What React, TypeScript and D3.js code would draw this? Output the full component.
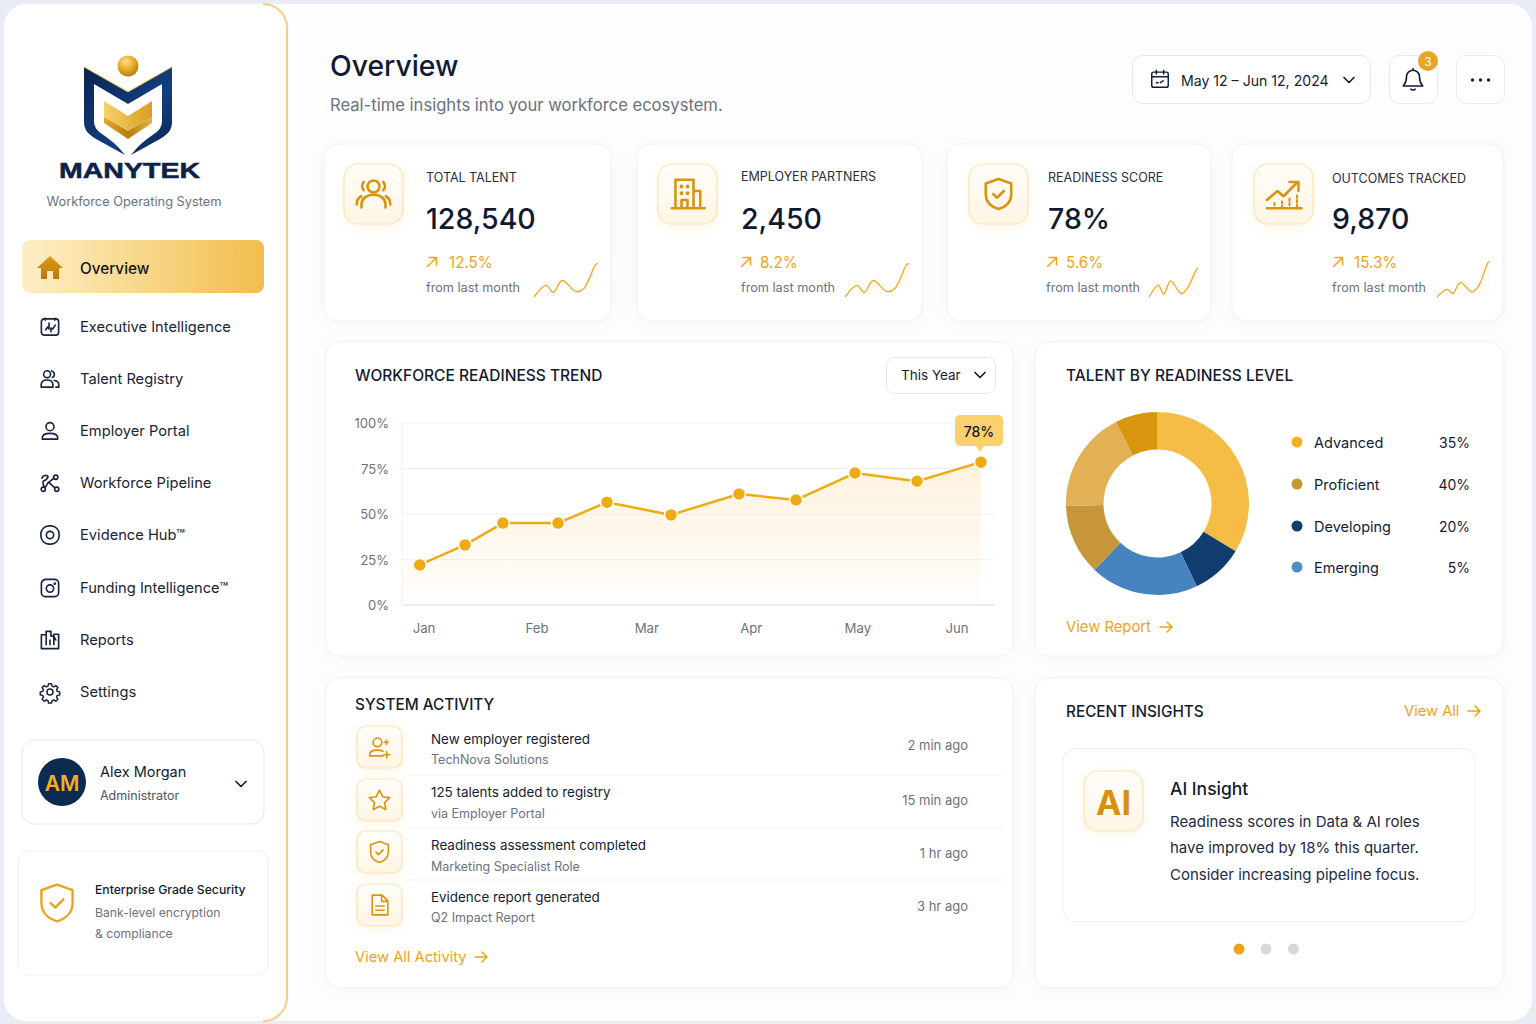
import React from "react";
import * as d3 from "d3";

// ---------- data ----------
const navLabels = ["Executive Intelligence", "Talent Registry", "Employer Portal", "Workforce Pipeline", "Evidence Hub™", "Funding Intelligence™", "Reports", "Settings"];
const navIcons = ["exec", "talent", "person", "pipeline", "evidence", "funding", "reports", "gear"];
const kpiLabels = ["TOTAL TALENT", "EMPLOYER PARTNERS", "READINESS SCORE", "OUTCOMES TRACKED"];
const kpiValues = ["128,540", "2,450", "78%", "9,870"];
const kpiDeltas = ["12.5%", "8.2%", "5.6%", "15.3%"];
const kpiIcons = ["users", "building", "shield", "growth"];
const sparkPositions = [0, 0.19, 0.3, 0.44, 0.66, 0.78, 0.97, 1];
const sparkOne = [0, 35, 14, 50, 16, 26, 100, 100];
const sparkTwo = [0, 35, 14, 50, 16, 26, 100, 100];
const sparkThree = [0, 40, 10, 55, 12, 30, 95, 100];
const sparkFour = [0, 22, 10, 42, 14, 30, 100, 100];
const sparks = [sparkOne, sparkTwo, sparkThree, sparkFour];

const trendPositions = [-0.04, 0.385, 0.74, 1.257, 1.717, 2.317, 2.955, 3.49, 4.043, 4.625, 5.225];
const trendValues = [22, 33, 45, 45, 56.5, 49.5, 61, 57.7, 72.5, 68, 78.5];
const areaStartPosition = -0.2;
const months = ["Jan", "Feb", "Mar", "Apr", "May", "Jun"];
const monthPositions = [0, 1.06, 2.09, 3.07, 4.07, 5];
const yTicks = [0, 25, 50, 75, 100];

const donutShares = [33.7, 9.2, 19.1, 12.5, 17.9, 7.5];
const donutColors = ["#f5bd45", "#0f3d70", "#4684c0", "#c8963a", "#e2b055", "#d8960f"];
const legendLabels = ["Advanced", "Proficient", "Developing", "Emerging"];
const legendValues = ["35%", "40%", "20%", "5%"];
const legendColors = ["#f3b11f", "#c8962f", "#0f3d70", "#4d8fcb"];

const activityTitles = ["New employer registered", "125 talents added to registry", "Readiness assessment completed", "Evidence report generated"];
const activitySubs = ["TechNova Solutions", "via Employer Portal", "Marketing Specialist Role", "Q2 Impact Report"];
const activityTimes = ["2 min ago", "15 min ago", "1 hr ago", "3 hr ago"];
const activityIcons = ["userplus", "star", "shield", "doc"];
const insightLines = ["Readiness scores in Data & AI roles", "have improved by 18% this quarter.", "Consider increasing pipeline focus."];

// ---------- layout ----------
const FONT = "Inter, 'Noto Sans', sans-serif";
const INK = "#131c33";
const GRAY = "#6b7280";
const ORANGE = "#f0a317";
const GOLD = "#d9930f";
const NAV_Y = [327, 379, 431, 483, 535, 588, 640, 692];
const kpiBox = [[324, 611], [637, 922], [947, 1211], [1232, 1503]];
const kpiIconX = [344, 658, 969, 1254];
const kpiText = [426, 741, 1048, 1332];
const kpiFrom = [426, 741, 1046, 1332];
const kpiLabelY = [177, 176, 177, 178];
const kpiArrow = [432, 746, 1052, 1338];
const kpiPct = [449, 760, 1066, 1354];
const sparkBox = [[534, 598, 264, 297], [845, 909, 264, 297], [1149, 1198, 268, 297], [1437, 1490, 262, 297]];
const rowBoxY = [726, 779, 831, 884];
const rowTitleY = [739, 792, 845, 897];
const rowSubY = [759, 813, 866, 917];
const rowTimeY = [745, 800, 853, 906];
const legendY = [442, 484, 526, 567];

const x = d3.scaleLinear().domain([0, 5]).range([424, 957]);
const y = d3.scaleLinear().domain([0, 100]).range([605, 423]);
const trendPts: [number, number][] = trendPositions.map((p, i) => [x(p), y(trendValues[i])]);
const trendLine = d3.line()(trendPts) as string;
const areaPts: [number, number][] = [[x(areaStartPosition), y(trendValues[0])], ...trendPts];
const trendArea = d3.area().y0(y(0)).y1((d) => d[1])(areaPts) as string;
const pieArcs = d3.pie<number>().sort(null)(donutShares);
const arcGen = d3.arc<d3.PieArcDatum<number>>().innerRadius(54).outerRadius(91.5);

const T = ({ x, y, s = 15, c = INK, w = 400, a = "start", ls, children }: any) => (
  <text x={x} y={y + 0.2} fontSize={s} fill={c} fontWeight={w} textAnchor={a} dominantBaseline="central" letterSpacing={ls} fontFamily={FONT}>{children}</text>
);

const iconPaths: Record<string, React.ReactNode> = {
  exec: <><rect x="3" y="3.5" width="18" height="17" rx="3" /><path d="M7 3v2M17 3v2M7.5 15l2-3 1.5 2V8M13 17v-4l2 1 2.5-4" /></>,
  talent: <><circle cx="9" cy="7" r="3.6" /><path d="M13.5 3.6a3.6 3.6 0 0 1 1 6.8M2.8 20.5v-2.5c0-3 2.5-5 6.2-5s6 2 6 5v2.5zM16.5 13.5c2.8.3 4.7 2 4.7 4.6v2.4h-3" /></>,
  person: <><circle cx="12" cy="7.5" r="4.2" /><path d="M4 20.5v-1.5c0-3 2.5-4.5 8-4.5s8 1.500 8 4.500v1.500z" /></>,
  pipeline: <><circle cx="5" cy="18.500" r="2.200" /><circle cx="19" cy="18.500" r="2.200" /><circle cx="18" cy="6" r="2.200" /><path d="M3.500 7c1-3 5-4 6.500-1.500M10 5.500c-1 3-3 4-5 4.500-1 2 0 4 1 6.500M7 16.500l3.500-5.500 6.500 6M11 11l5-4" /></>,
  evidence: <><rect x="2.500" y="2.500" width="19" height="19" rx="8.500" /><circle cx="12" cy="12" r="3.800" /></>,
  funding: <><path d="M7 3h10a4 4 0 0 1 4 4v10a4 4 0 0 1-4 4H7a4 4 0 0 1-4-4V7c0-2 1-3 4-4z" /><circle cx="12" cy="12.500" r="3.800" /><circle cx="17" cy="7.500" r=".6" /></>,
  reports: <><path d="M3 6.500h5V3h5v5h3V6l5 0v15H3zM8 6.500V14M8 17v-3M12 17v-5M16 17V8l2 4" /></>,
  gear: <><circle cx="12" cy="12" r="3.500" /><path d="M10.300 2.500h3.400l.6 2.800 1.900.8 2.400-1.500 2.400 2.400-1.500 2.400.8 1.900 2.800.6v3.400l-2.800.6-.8 1.900 1.500 2.400-2.400 2.400-2.400-1.500-1.900.8-.6 2.800h-3.400l-.6-2.800-1.900-.8-2.400 1.500-2.400-2.400 1.500-2.400-.8-1.900-2.800-.6v-3.400l2.800-.6.8-1.900-1.500-2.400 2.400-2.400 2.400 1.500 1.900-.8z" /></>,
  users: <><circle cx="12" cy="7" r="4" /><path d="M4 21v-2c0-4 3.500-6.500 8-6.500s8 2.500 8 6.500v2M5.500 4c-1.500 1.500-1.500 4 0 5.500M18.500 4c1.500 1.500 1.500 4 0 5.500M0.800 19c0-3 1-4.500 3-5.500M23.200 19c0-3-1-4.500-3-5.500" /></>,
  building: <><path d="M4 21V2.500h12V21M16 10h4.500v11M1.500 21.500h22M8 21v-5h4v5" /><path d="M8 7h.01M12 7h.01M8 11.500h.01M12 11.500h.01" strokeWidth="2.600" strokeLinecap="round" /></>,
  shield: <><path d="M12 2l8.500 3v7c0 5-3.500 8.500-8.500 10-5-1.500-8.500-5-8.500-10V5z" /><path d="M8.500 12l2.500 2.500 4.500-4.500" /></>,
  growth: <><path d="M1 16l7-6 4 3.500 9-9M16 4h6v6M1 21.500h23" /><path d="M6 18v3M11 17v4M16 15v6M21 13v8" strokeDasharray="1.500 1.500" strokeWidth="1.400" /></>,
  userplus: <><circle cx="10" cy="7.500" r="4.200" /><path d="M2.500 20.500v-1c0-3 3-4.500 7.500-4.500 2 0 4 .4 5.500 1.200M2.500 20.500h13M19 16.500v6M16 19.500h6M18.500 5.500v4M16.500 7.500h4" /></>,
  star: <path d="M12 2.500l3 6.300 6.800.9-5 4.800 1.300 6.800-6.100-3.300-6.100 3.300 1.300-6.800-5-4.800 6.800-.9z" />,
  doc: <><path d="M5 2.500h9.500L20 8v13.500H5zM14 3v5.500h6M8.500 13h8M8.500 17h8" /></>,
  calendar: <><rect x="3" y="4.500" width="18" height="16.500" rx="2" /><path d="M3 9.500h18M8 2.500v4M16 2.500v4M8 16h2M12.500 16l3-2" /></>,
  bell: <><path d="M6 9a6 6 0 0 1 12 0c0 6 2.500 7.500 3 8.500H3c.5-1 3-2.500 3-8.500zM12 1.500V3M10 20.500c.5 1 3.500 1 4 0" /></>,
};

const Icon = ({ name, cx, cy, size = 24, color = INK, sw = 1.7 }: any) => (
  <g transform={`translate(${cx - size / 2} ${cy - size / 2}) scale(${size / 24})`} fill="none" stroke={color} strokeWidth={sw} strokeLinecap="round" strokeLinejoin="round">
    {iconPaths[name]}
  </g>
);

const Arrow = ({ x, y, c = ORANGE }: any) => (
  <path d={`M${x} ${y}h12M${x + 7} ${y - 5}l5 5-5 5`} fill="none" stroke={c} strokeWidth="1.500" strokeLinecap="round" strokeLinejoin="round" />
);
const UpArrow = ({ x, y }: any) => (
  <path d={`M${x - 4.500} ${y + 4.500}L${x + 4.500} ${y - 4.500}M${x - 3} ${y - 4.500}h7.500v7.500`} fill="none" stroke={ORANGE} strokeWidth="1.500" strokeLinecap="round" strokeLinejoin="round" />
);
const Chevron = ({ x, y, c = INK }: any) => (
  <path d={`M${x - 5} ${y - 2.500}l5 5 5-5`} fill="none" stroke={c} strokeWidth="1.700" strokeLinecap="round" strokeLinejoin="round" />
);
const Card = ({ x, y, x2, y2, r = 14 }: any) => (
  <rect x={x} y={y} width={x2 - x} height={y2 - y} rx={r} fill="#fff" stroke="#eff1f5" filter="url(#card)" />
);
const IconBox = ({ x, y, w, h, r = 14 }: any) => (
  <rect x={x} y={y} width={w} height={h} rx={r} fill="url(#iconBg)" stroke="#fbe3b2" strokeWidth="1.200" filter="url(#iconGlow)" />
);

const Spark = ({ values, box, id }: any) => {
  const [x0, x1, y0, y1] = box;
  const sx = d3.scaleLinear().domain([0, 1]).range([x0, x1]);
  const sy = d3.scaleLinear().domain([0, 100]).range([y1, y0]);
  const pts: [number, number][] = values.map((v: number, i: number) => [sx(sparkPositions[i]), sy(v)]);
  const line = d3.line().curve(d3.curveCatmullRom.alpha(0.5))(pts) as string;
  const area = d3.area().curve(d3.curveCatmullRom.alpha(0.5)).y0(y1).y1((d) => d[1])(pts) as string;
  return (
    <g key={id}>
      <path d={area} fill="url(#sparkFill)" />
      <path d={line} fill="none" stroke="#f2a81d" strokeWidth="1.300" />
    </g>
  );
};

export default function App() {
  return (
    <svg width={1536} height={1024} viewBox="0 0 1536 1024" style={{ position: "fixed", left: 0, top: 0, display: "block" }}>
      <defs>
        <filter id="card" x="-10%" y="-10%" width="120%" height="125%"><feDropShadow dx="0" dy="2" stdDeviation="4" floodColor="#8a93a8" floodOpacity="0.08" /></filter>
        <filter id="iconGlow" x="-30%" y="-30%" width="160%" height="170%"><feDropShadow dx="0" dy="3" stdDeviation="4" floodColor="#f5b942" floodOpacity="0.12" /></filter>
        <linearGradient id="iconBg" x1="0" y1="0" x2="0" y2="1"><stop offset="0" stopColor="#fffefb" /><stop offset="1" stopColor="#fff5e3" /></linearGradient>
        <linearGradient id="active" x1="0" y1="0" x2="1" y2="0"><stop offset="0" stopColor="#fdeec8" /><stop offset="0.5" stopColor="#f8d78a" /><stop offset="1" stopColor="#f2bd4d" /></linearGradient>
        <linearGradient id="areaFill" x1="0" y1="0" x2="0" y2="1"><stop offset="0" stopColor="#f8c464" stopOpacity="0.22" /><stop offset="1" stopColor="#f8c464" stopOpacity="0.02" /></linearGradient>
        <linearGradient id="sparkFill" x1="0" y1="0" x2="0" y2="1"><stop offset="0" stopColor="#f8c464" stopOpacity="0.12" /><stop offset="1" stopColor="#f8c464" stopOpacity="0" /></linearGradient>
        <radialGradient id="ball" cx="0.4" cy="0.3" r="0.8"><stop offset="0" stopColor="#fbe08a" /><stop offset="0.5" stopColor="#e6a826" /><stop offset="1" stopColor="#a9700c" /></radialGradient>
        <linearGradient id="navy" x1="0" y1="0" x2="1" y2="1"><stop offset="0" stopColor="#0b2350" /><stop offset="0.6" stopColor="#123f80" /><stop offset="1" stopColor="#0b2350" /></linearGradient>
        <linearGradient id="goldTop" x1="0" y1="0" x2="1" y2="0"><stop offset="0" stopColor="#f5d36a" /><stop offset="1" stopColor="#d99e22" /></linearGradient>
        <linearGradient id="goldLow" x1="0" y1="0" x2="1" y2="0"><stop offset="0" stopColor="#e3a92a" /><stop offset="0.5" stopColor="#b67c10" /><stop offset="1" stopColor="#e5b33a" /></linearGradient>
        <linearGradient id="homeGold" x1="0" y1="0" x2="0" y2="1"><stop offset="0" stopColor="#dc9a1c" /><stop offset="1" stopColor="#b9770d" /></linearGradient>
      </defs>

      <rect width={1536} height={1024} fill="#e9ecf4" />
      <rect x={4} y={4} width={1528} height={1017} rx={22} fill="#fdfdfe" />

      {/* sidebar */}
      <path d="M4 28a24 24 0 0 1 24-24h235a24 24 0 0 1 24 24v969a24 24 0 0 1-24 24H28a24 24 0 0 1-24-24z" fill="#fff" />
      <path d="M263 4a24 24 0 0 1 24 24v969a24 24 0 0 1-24 24" fill="none" stroke="#f8cf7f" strokeWidth="2" />

      {/* logo */}
      <circle cx={128} cy={66} r={10.500} fill="url(#ball)" />
      <path d="M84 67L128 92 172 67V122C172 130 168 134 160 139L131 155C139 145 145 140 154 134 160 130 162 126 162 120V84L128 104 94 84V120C94 126 96 130 102 134 111 140 117 145 125 155L96 139C88 134 84 130 84 122Z" fill="url(#navy)" />
      <path d="M84 67L128 92 172 67" fill="none" stroke="#e5b02f" strokeWidth="0.900" />
      <path d="M104 101L128 116 152 101V117L128 131 104 117Z" fill="url(#goldTop)" />
      <path d="M104 117L128 131 152 117V123L128 139 104 123Z" fill="url(#goldLow)" />
      <text x={59} y={171} fontSize={21.500} fontWeight={700} fill="#0e2147" dominantBaseline="central" textLength={141} lengthAdjust="spacingAndGlyphs" fontFamily="'Liberation Sans', Inter, sans-serif" stroke="#0e2147" strokeWidth=".5">MANYTEK</text>
      <T x={134} y={201} s={12.800} c={GRAY} a="middle">Workforce Operating System</T>

      {/* nav */}
      <rect x={22} y={240} width={242} height={53} rx={8} fill="url(#active)" />
      <path d="M50 256L63 268H59V279H53V271H47V279H41V268H37Z" fill="url(#homeGold)" />
      <T x={80} y={268} s={15.300} w={500} c="#14161d">Overview</T>
      {navLabels.map((l, i) => (
        <g key={l}>
          <Icon name={navIcons[i]} cx={50} cy={NAV_Y[i]} size={navIcons[i] === "gear" ? 21 : 23} sw={1.700} color="#172340" />
          <T x={80} y={NAV_Y[i]} s={14.700} w={400} c="#1b2438">{l}</T>
        </g>
      ))}

      {/* user */}
      <rect x={22} y={740} width={242} height={84} rx={12} fill="#fff" stroke="#e5e7ee" />
      <circle cx={62} cy={782} r={24} fill="#0c2a52" />
      <T x={62} y={783} s={21} w={600} c="#f2b01e" a="middle">AM</T>
      <T x={100} y={771} s={14.500} w={400}>Alex Morgan</T>
      <T x={100} y={795} s={12.500} c="#4b5563">Administrator</T>
      <Chevron x={241} y={784} />

      {/* security */}
      <rect x={18} y={851} width={250} height={124} rx={10} fill="#fff" stroke="#eceef3" />
      <Icon name="shield" cx={57} cy={903} size={44} sw={1.300} color="#eaa21d" />
      <T x={95} y={889} s={12.200} w={500}>Enterprise Grade Security</T>
      <T x={95} y={912} s={12.200} c={GRAY}>Bank-level encryption</T>
      <T x={95} y={933} s={12.200} c={GRAY}>&amp; compliance</T>

      {/* header */}
      <T x={330} y={66} s={28.300} w={500} c="#121b33">Overview</T>
      <T x={330} y={105} s={16.600} c={GRAY}>Real-time insights into your workforce ecosystem.</T>
      <rect x={1132.500} y={55.500} width={238} height={48} rx={10} fill="#fff" stroke="#e5e7ee" />
      <Icon name="calendar" cx={1160} cy={79} size={22} sw={1.600} />
      <T x={1181} y={80} s={14.100}>May 12 – Jun 12, 2024</T>
      <Chevron x={1349} y={80} />
      <rect x={1389.500} y={55.500} width={48} height={48} rx={10} fill="#fff" stroke="#e8eaf0" />
      <Icon name="bell" cx={1413} cy={80} size={26} sw={1.500} />
      <circle cx={1428} cy={61} r={10} fill="#e8a52a" />
      <T x={1428} y={61} s={12} c="#fff" a="middle">3</T>
      <rect x={1456.500} y={55.500} width={48} height={48} rx={10} fill="#fff" stroke="#e8eaf0" />
      {[1472.500, 1480.500, 1488.500].map((d) => <circle key={d} cx={d} cy={80} r={1.700} fill={INK} />)}

      {/* KPI cards */}
      {kpiLabels.map((l, i) => (
        <g key={l}>
          <Card x={kpiBox[i][0]} x2={kpiBox[i][1]} y={144} y2={321} />
          <IconBox x={kpiIconX[i]} y={164} w={59} h={60} r={14} />
          <Icon name={kpiIcons[i]} cx={kpiIconX[i] + 29.500} cy={194} size={36} sw={1.700} color={GOLD} />
          <T x={kpiText[i]} y={kpiLabelY[i]} s={12.500} w={400} c="#272f42">{l}</T>
          <T x={kpiText[i]} y={218} s={28.500} w={450} c="#101933">{kpiValues[i]}</T>
          <UpArrow x={kpiArrow[i]} y={262} />
          <T x={kpiPct[i]} y={262} s={15.200} c={ORANGE}>{kpiDeltas[i]}</T>
          <T x={kpiFrom[i]} y={287} s={12.700} c={GRAY}>from last month</T>
          <Spark values={sparks[i]} box={sparkBox[i]} id={l} />
        </g>
      ))}

      {/* trend */}
      <Card x={326} x2={1013} y={342} y2={656} />
      <T x={355} y={375} s={15.500} w={500} c="#141c30">WORKFORCE READINESS TREND</T>
      <rect x={886.500} y={357.500} width={109} height={36} rx={8} fill="#fff" stroke="#e5e7ee" />
      <T x={901} y={375} s={13.500}>This Year</T>
      <Chevron x={980} y={375} />
      {yTicks.map((t) => (
        <g key={t}>
          <line x1={402} x2={995} y1={y(t)} y2={y(t)} stroke={t === 0 ? "#e4e7ee" : "#eff1f5"} strokeWidth={t === 0 ? 1.500 : 1} />
          <T x={389} y={y(t)} s={13} c="#6b7280" a="end">{t}%</T>
        </g>
      ))}
      <line x1={402} x2={402} y1={y(100)} y2={y(0)} stroke="#eff1f5" />
      {months.map((m, i) => <T key={m} x={x(monthPositions[i])} y={628} s={13.200} c="#6b7280" a="middle">{m}</T>)}
      <path d={trendArea} fill="url(#areaFill)" />
      <path d={trendLine} fill="none" stroke="#eeab14" strokeWidth="2.500" strokeLinejoin="round" />
      {trendPts.map((p, i) => <circle key={i} cx={p[0]} cy={p[1]} r={6.500} fill="#eeab14" stroke="#fff" strokeWidth="1.500" />)}
      <path d="M955 420a5 5 0 0 1 5-5h38a5 5 0 0 1 5 5v21a5 5 0 0 1-5 5h-14l-4 6-4-6h-16a5 5 0 0 1-5-5z" fill="#fbd06d" />
      <T x={979} y={431} s={14} w={500} c="#14161d" a="middle">78%</T>

      {/* donut */}
      <Card x={1035} x2={1503} y={342} y2={656} />
      <T x={1066} y={375} s={15.500} w={500} c="#141c30">TALENT BY READINESS LEVEL</T>
      <g transform="translate(1157.500 503.500)">
        {pieArcs.map((a, i) => <path key={i} d={arcGen(a) as string} fill={donutColors[i]} />)}
      </g>
      {legendLabels.map((l, i) => (
        <g key={l}>
          <circle cx={1297} cy={legendY[i]} r={5.500} fill={legendColors[i]} />
          <T x={1314} y={legendY[i]} s={14.500}>{l}</T>
          <T x={1470} y={legendY[i]} s={14} a="end">{legendValues[i]}</T>
        </g>
      ))}
      <T x={1066} y={627} s={14.800} c={ORANGE}>View Report</T>
      <Arrow x={1160} y={627} />

      {/* activity */}
      <Card x={326} x2={1013} y={678} y2={988} />
      <T x={355} y={704} s={15.300} w={500} c="#141c30">SYSTEM ACTIVITY</T>
      {activityTitles.map((t, i) => (
        <g key={t}>
          <IconBox x={357} y={rowBoxY[i]} w={45} h={42} r={9} />
          <Icon name={activityIcons[i]} cx={379.500} cy={rowBoxY[i] + 21} size={25} sw={1.500} color={GOLD} />
          <T x={431} y={rowTitleY[i]} s={13.400} w={400}>{t}</T>
          <T x={431} y={rowSubY[i]} s={12.500} c={GRAY}>{activitySubs[i]}</T>
          <T x={968} y={rowTimeY[i]} s={13} c={GRAY} a="end">{activityTimes[i]}</T>
          {i < 3 && <line x1={406} x2={1002} y1={rowBoxY[i] + 49} y2={rowBoxY[i] + 49} stroke="#eff1f5" />}
        </g>
      ))}
      <T x={355} y={957} s={14.700} c={ORANGE}>View All Activity</T>
      <Arrow x={475} y={957} />

      {/* insights */}
      <Card x={1035} x2={1503} y={678} y2={988} />
      <T x={1066} y={711} s={15.300} w={500} c="#141c30">RECENT INSIGHTS</T>
      <T x={1404} y={711} s={14.700} c={ORANGE}>View All</T>
      <Arrow x={1468} y={711} />
      <rect x={1063} y={748.500} width={412} height={173} rx={12} fill="#fff" stroke="#eceef3" />
      <IconBox x={1084} y={771} w={59} h={60} r={14} />
      <T x={1113.500} y={802} s={34} w={700} c="#d98e0c" a="middle">AI</T>
      <T x={1170} y={788} s={17.500} w={500}>AI Insight</T>
      {insightLines.map((l, i) => <T key={l} x={1170} y={[821, 847, 874][i]} s={15} c="#222b41">{l}</T>)}
      <circle cx={1239} cy={949} r={5.500} fill="#f0a317" />
      <circle cx={1266} cy={949} r={5.500} fill="#d7d8dc" />
      <circle cx={1293.500} cy={949} r={5.500} fill="#d7d8dc" />
    </svg>
  );
}
